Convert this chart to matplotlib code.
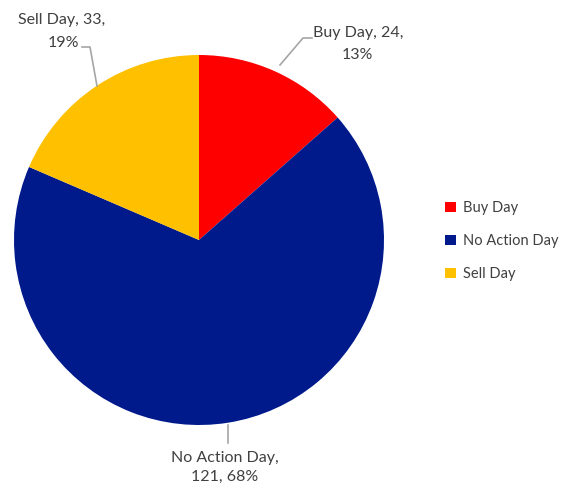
import matplotlib.pyplot as plt
from matplotlib.patches import Patch

labels = ['Buy Day', 'No Action Day', 'Sell Day']
values = [24, 121, 33]
colors = ['#FF0000', '#001A8C', '#FFC000']

plt.rcParams['font.family'] = ['Lato', 'DejaVu Sans']
text_color = '#404040'
line_color = '#A6A6A6'
fs = 11.5

W, H = 564, 486
fig = plt.figure(figsize=(W / 100, H / 100), dpi=100)
ax = fig.add_axes([0, 0, 1, 1])

# pixel coords -> data coords (y flipped)
def P(x, y):
    return x, H - y

cx, cy = P(199, 240)
ax.pie(values, colors=colors, startangle=90, counterclock=False,
       center=(cx, cy), radius=185, wedgeprops=dict(linewidth=0),
       frame=True)
ax.set_xlim(0, W)
ax.set_ylim(0, H)
ax.set_aspect('equal')
ax.axis('off')

total = sum(values)
pct = [round(v * 100 / total) for v in values]

# Buy Day label
ax.plot(*zip(P(280, 65), P(303, 38), P(312, 38)), color=line_color, lw=1.2)
ax.text(*P(313, 33), f'{labels[0]}, {values[0]},', ha='left', va='center',
        fontsize=fs, color=text_color)
ax.text(*P(357, 55), f'{pct[0]}%', ha='center', va='center',
        fontsize=fs, color=text_color)

# Sell Day label
ax.plot(*zip(P(97, 86), P(90, 47), P(82, 47)), color=line_color, lw=1.2)
ax.text(*P(62, 20), f'{labels[2]}, {values[2]},', ha='center', va='center',
        fontsize=fs, color=text_color)
ax.text(*P(79, 43), f'{pct[2]}%', ha='right', va='center',
        fontsize=fs, color=text_color)

# No Action Day label
ax.plot(*zip(P(228, 425), P(228, 443)), color=line_color, lw=1.2)
ax.text(*P(225, 458), f'{labels[1]},', ha='center', va='center',
        fontsize=fs, color=text_color)
ax.text(*P(225, 477), f'{values[1]}, {pct[1]}%', ha='center', va='center',
        fontsize=fs, color=text_color)

handles = [Patch(facecolor=c, edgecolor='none') for c in colors]
fig.legend(handles, labels, loc='center left', bbox_to_anchor=(432 / W, 1 - 241 / H),
           frameon=False, fontsize=10.5, labelcolor=text_color,
           handlelength=0.75, handleheight=0.75, handletextpad=0.45,
           labelspacing=1.3)

fig.savefig('out.png', dpi=100)
